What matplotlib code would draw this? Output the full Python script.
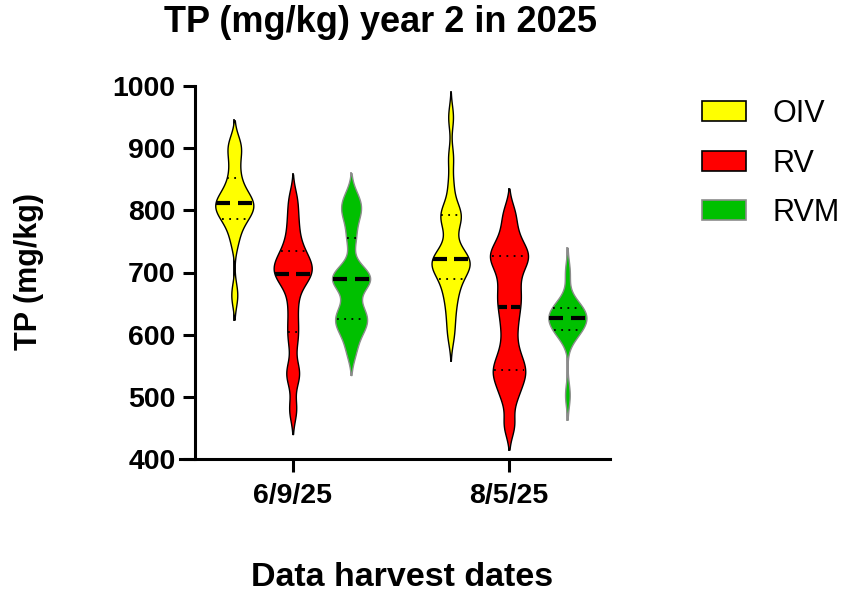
import numpy as np
import matplotlib.pyplot as plt
from matplotlib.patches import Patch

plt.rcParams['font.family'] = ['Liberation Sans', 'DejaVu Sans']

dates = ['6/9/25', '8/5/25']
treatments = ['OIV', 'RV', 'RVM']
fills = ['#FFFF00', '#FF0000', '#00C000']
edges = ['black', 'black', '#8C8C8C']

# TP readings (mg/kg), estimated from the violins
oiv_jun = [664, 752, 780, 788, 800, 806, 810, 812, 815, 830, 845, 870, 900, 905]
rv_jun = [480, 530, 545, 590, 618, 650, 680, 692, 698,
          704, 710, 718, 728, 740, 762, 788, 818]
rvm_jun = [575, 605, 615, 625, 632, 645, 680, 689, 690, 695, 700, 755, 790, 805, 820]
oiv_aug = [598, 625, 648, 665, 678, 689, 700, 706, 711, 715, 718, 721,
           724, 730, 745, 770, 785, 792, 796, 805, 840, 885, 950]
rv_aug = [455, 498, 520, 535, 545, 558, 580, 610, 635,
          655, 672, 695, 715, 724, 731, 742, 765, 795]
rvm_aug = [503, 600, 605, 610, 615, 625, 627, 630, 635, 640, 645, 650, 700]

groups = [[oiv_jun, rv_jun, rvm_jun], [oiv_aug, rv_aug, rvm_aug]]

bw = 19.0
cut = 2.1
half_w = 0.088
offset = 0.27


def kde(vals, grid):
    v = np.asarray(vals, float)[:, None]
    d = np.exp(-0.5 * ((grid[None, :] - v) / bw) ** 2).sum(axis=0)
    return d / d.max()


fig = plt.figure(figsize=(8.48, 5.96), dpi=100)
ax = fig.add_axes([180 / 848, 137 / 596, 430 / 848, 373 / 596])

for g, series in enumerate(groups):
    for k, vals in enumerate(series):
        x0 = g + (k - 1) * offset
        lo, hi = min(vals) - cut * bw, max(vals) + cut * bw
        grid = np.linspace(lo, hi, 400)
        w = kde(vals, grid) * half_w
        ax.plot([x0, x0], [lo, hi], color=edges[k], lw=1.3, zorder=2)
        ax.fill_betweenx(grid, x0 - w, x0 + w, facecolor=fills[k],
                         edgecolor=edges[k], lw=1.0, zorder=3)
        q1, med, q3 = np.percentile(vals, [25, 50, 75], method='weibull')
        for q in (q1, q3):
            wq = np.interp(q, grid, w) * 0.9
            ax.plot([x0 - wq, x0 + wq], [q, q], color='black', lw=1.3,
                    ls=(0, (1, 3)), zorder=4)
        wm = np.interp(med, grid, w) * 0.95
        for side in (-1, 1):
            ax.plot([x0 + side * 0.22 * wm, x0 + side * wm], [med, med],
                    color='black', lw=3.0, solid_capstyle='butt', zorder=4)

ax.set_xlim(-0.521, 1.467)
ax.set_ylim(400, 1000)
ax.set_yticks(range(400, 1001, 100))
ax.set_xticks([0, 1])
ax.set_xticklabels(dates)
ax.spines['top'].set_visible(False)
ax.spines['right'].set_visible(False)
ax.spines['left'].set_position(('axes', 15 / 430))
for s in ['left', 'bottom']:
    ax.spines[s].set_linewidth(2.2)
ax.tick_params(width=2.2, length=9, labelsize=20.5, pad=5)
ax.tick_params(axis='x', pad=8)
for t in ax.get_xticklabels() + ax.get_yticklabels():
    t.set_fontweight('bold')

fig.text(381 / 848, 1 - 22 / 596, 'TP (mg/kg) year 2 in 2025', ha='center',
         va='center', fontsize=26, fontweight='bold')
fig.text(402 / 848, 1 - 578 / 596, 'Data harvest dates', ha='center',
         va='center', fontsize=24.5, fontweight='bold')
fig.text(29 / 848, 1 - 272 / 596, 'TP (mg/kg)', ha='center', va='center',
         rotation=90, fontsize=22, fontweight='bold')

handles = [Patch(facecolor=fills[k], edgecolor=edges[k], lw=1.2, label=treatments[k])
           for k in range(3)]
fig.legend(handles=handles, loc='upper left', bbox_to_anchor=(702 / 848, 1 - 99 / 596),
           frameon=False, fontsize=22, handlelength=1.45, handleheight=0.62,
           handletextpad=0.85, labelspacing=0.64, borderpad=0, borderaxespad=0)

fig.savefig('out.png', dpi=100)
